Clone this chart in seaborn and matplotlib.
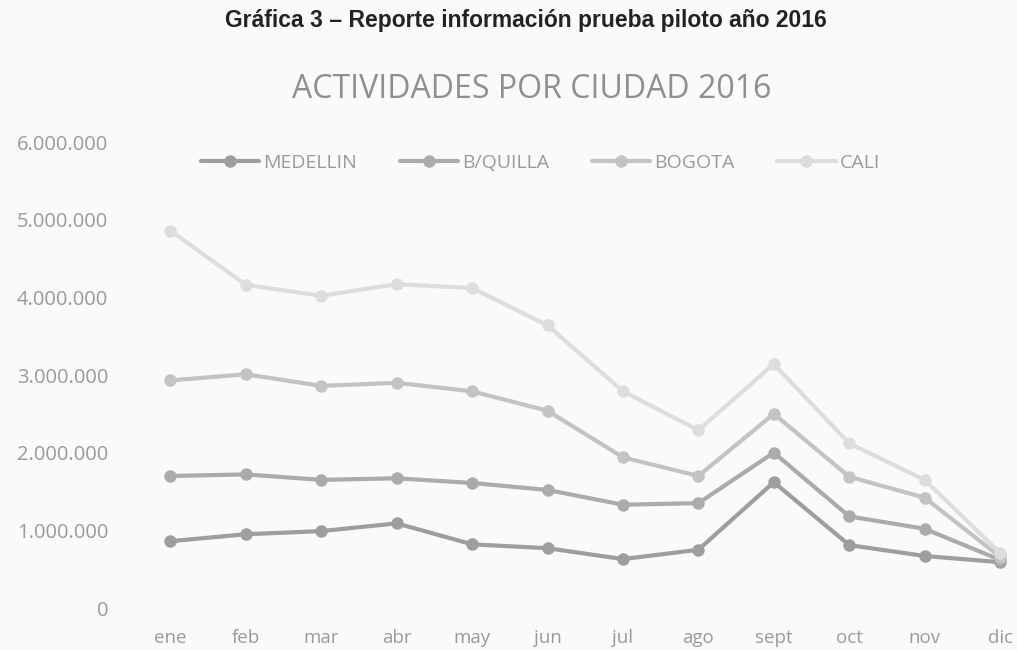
import pandas as pd
import matplotlib.pyplot as plt
import seaborn as sns

# Data
months = ["ene", "feb", "mar", "abr", "may", "jun", "jul", "ago", "sept", "oct", "nov", "dic"]
medellin = [860000, 950000, 990000, 1090000, 820000, 770000, 630000, 750000, 1620000, 810000, 670000, 590000]
bquilla = [1700000, 1720000, 1650000, 1670000, 1610000, 1520000, 1330000, 1350000, 2000000, 1180000, 1020000, 620000]
bogota = [2930000, 3010000, 2860000, 2900000, 2790000, 2540000, 1940000, 1700000, 2500000, 1690000, 1420000, 660000]
cali = [4860000, 4160000, 4020000, 4170000, 4120000, 3640000, 2790000, 2290000, 3140000, 2120000, 1650000, 710000]
cities = ["MEDELLIN", "B/QUILLA", "BOGOTA", "CALI"]
colors = ["#9e9e9e", "#ababab", "#c3c3c3", "#dddddd"]

df = pd.DataFrame({"mes": months * 4,
                   "valor": medellin + bquilla + bogota + cali,
                   "ciudad": [c for c in cities for _ in months]})

sns.set_style("white")
plt.rcParams["font.family"] = ["Open Sans", "DejaVu Sans"]

fig = plt.figure(figsize=(10.17, 6.5), dpi=100, facecolor="#fafafa")
ax = fig.add_axes([0.1475, 0.0646, 0.8455, 0.7169])
ax.set_facecolor("#fafafa")

sns.lineplot(data=df, x="mes", y="valor", hue="ciudad", palette=colors,
             marker="o", markersize=9, markeredgewidth=0, linewidth=3,
             sort=False, ax=ax)

ax.set_xlim(-0.27, 11.13)
ax.set_ylim(0, 6000000)
ax.set_yticks(range(0, 6000001, 1000000))
ax.set_yticklabels(["0"] + [f"{v:,}".replace(",", ".") for v in range(1000000, 6000001, 1000000)])
ax.tick_params(axis="both", colors="#9a9a9a", length=0)
ax.tick_params(axis="x", pad=15, labelsize=13.5)
ax.tick_params(axis="y", pad=30, labelsize=14.5)
ax.set_xlabel("")
ax.set_ylabel("")
sns.despine(ax=ax, left=True, bottom=True)

leg = ax.legend(loc="upper center", bbox_to_anchor=(0.454, 1.012), ncol=4, frameon=False,
                fontsize=14, handlelength=3.0, columnspacing=2.2, handletextpad=0.2)
for t in leg.get_texts():
    t.set_color("#9a9a9a")

fig.text(0.517, 0.968, "Gráfica 3 – Reporte información prueba piloto año 2016",
         ha="center", va="center", fontsize=16.5, fontweight="bold", color="#222222",
         family=["Liberation Sans Narrow", "Liberation Sans", "DejaVu Sans"])
fig.text(0.523, 0.862, "ACTIVIDADES POR CIUDAD 2016", ha="center", va="center",
         fontsize=23, color="#8f8f8f")

fig.savefig("out.png", dpi=100, facecolor=fig.get_facecolor())
